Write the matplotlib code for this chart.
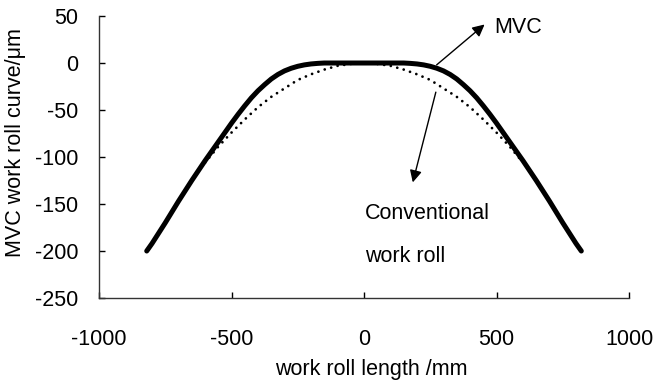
import matplotlib.pyplot as plt
import numpy as np

plt.rcParams['font.family'] = ['Liberation Sans', 'DejaVu Sans']
plt.rcParams['axes.unicode_minus'] = False

# roll profile, symmetric about the centre (mm, um)
mvc_x = [-820, -800, -750, -700, -650, -600, -550, -500, -475, -450, -425, -400,
         -375, -350, -325, -300, -275, -250, -225, -200, -175, -150, 0,
         150, 175, 200, 225, 250, 275, 300, 325, 350, 375, 400, 425, 450, 475,
         500, 550, 600, 650, 700, 750, 800, 820]
mvc_y = [-200, -192, -170, -147, -125, -104, -84, -64, -54.5, -45.5, -37, -29.5,
         -23, -17, -12.2, -8.4, -5.6, -3.5, -2, -1, -0.4, 0, 0,
         0, -0.4, -1, -2, -3.5, -5.6, -8.4, -12.2, -17, -23, -29.5, -37, -45.5, -54.5,
         -64, -84, -104, -125, -147, -170, -192, -200]

conv_x = [-600, -550, -500, -450, -400, -350, -300, -250, -200, -150, -100, -50, 0,
          50, 100, 150, 200, 250, 300, 350, 400, 450, 500, 550, 600]
conv_y = [-106, -89, -74, -60, -47, -36, -27, -18, -12, -7, -3, -1, 0,
          -1, -3, -7, -12, -18, -27, -36, -47, -60, -74, -89, -106]

fig = plt.figure(figsize=(6.54, 3.83), dpi=100)
ax = fig.add_axes([0.1514, 0.2219, 0.8104, 0.7363])

ax.plot(conv_x, conv_y, color='black', lw=2.0, linestyle=(0, (0.01, 2.4)),
        dash_capstyle='round')
ax.plot(mvc_x, mvc_y, color='black', lw=3.6, solid_capstyle='round',
        solid_joinstyle='round')

ax.set_xlim(-1000, 1000)
ax.set_ylim(-250, 50)
ax.set_xticks(np.arange(-1000, 1001, 500))
ax.set_yticks(np.arange(-250, 51, 50))

for s in ['top', 'right']:
    ax.spines[s].set_visible(False)
for s in ['left', 'bottom']:
    ax.spines[s].set_linewidth(1.0)
    ax.spines[s].set_color('#333333')

ax.tick_params(axis='x', direction='in', length=4, width=1, pad=22, labelsize=15.5)
ax.tick_params(axis='y', direction='in', length=4, width=1, pad=15, labelsize=15.5)

ax.set_xlabel('work roll length /mm', fontsize=15.5, va='center')
ax.set_ylabel('MVC work roll curve/\u03bcm', fontsize=15.5, va='center')
ax.xaxis.set_label_coords(0.513, -0.255)
ax.yaxis.set_label_coords(-0.157, 0.55)

# annotations
ax.annotate('', xy=(455, 41), xytext=(274, -2),
            arrowprops=dict(arrowstyle='-|>', color='black', lw=1.0,
                            mutation_scale=18, shrinkA=0, shrinkB=0))
ax.text(492, 38, 'MVC', fontsize=15.5, ha='left', va='center')

ax.annotate('', xy=(184, -127), xytext=(271, -31),
            arrowprops=dict(arrowstyle='-|>', color='black', lw=1.0,
                            mutation_scale=18, shrinkA=0, shrinkB=0))
ax.text(4, -160, 'Conventional', fontsize=15.5, ha='left', va='center')
ax.text(4, -206, 'work roll', fontsize=15.5, ha='left', va='center')

plt.savefig('out.png', dpi=100)
